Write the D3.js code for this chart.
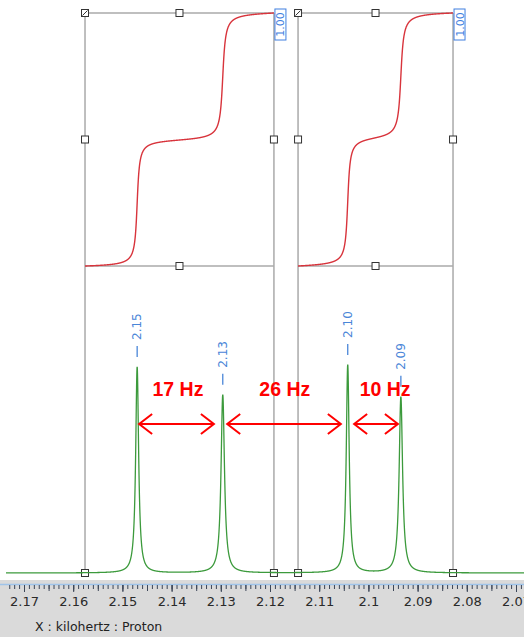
<!DOCTYPE html>
<html>
<head>
<meta charset="utf-8">
<script src="https://cdn.jsdelivr.net/npm/d3@7/dist/d3.min.js"></script>
<style>
  body { margin: 0; background: #fff; }
  svg { display: block; }
</style>
</head>
<body>
<script>
// peaks (kHz)
const peakPos = [2.1470, 2.1296, 2.1042, 2.0934];
const peakHeight = [1.0, 0.865, 1.01, 0.855];
const peakWidth = [0.00036, 0.00042, 0.00036, 0.00042];
const peakLabels = ["2.15", "2.13", "2.10", "2.09"];

// integral regions
const integralFrom = [2.1576, 2.1143];
const integralTo = [2.1192, 2.0828];
const integralLabels = ["1.00", "1.00"];

// coupling arrows
const couplingFrom = [2.1466, 2.1287, 2.1029];
const couplingTo = [2.1314, 2.1056, 2.0940];
const couplingLabels = ["17 Hz", "26 Hz", "10 Hz"];
const couplingLabelAt = [2.1387, 2.1170, 2.0966];
const couplingLevel = 0.723;

const axisTicks = [2.17, 2.16, 2.15, 2.14, 2.13, 2.12, 2.11, 2.10, 2.09, 2.08, 2.07];
const axisTitle = "X : kilohertz : Proton";

const W = 524, H = 637;
const base = 573;

let x = d3.scaleLinear().domain([2.17, 2.07]).range([24, 516]);
let y = d3.scaleLinear().domain([0, 1]).range([base, 367]);
let yi = d3.scaleLinear().domain([0, 1]).range([266, 13]);

let svg = d3.select("body").append("svg").attr("width", W).attr("height", H);

// lorentzian line shape from the peak list
function spec(v) {
  let s = 0;
  peakPos.forEach((p, i) => {
    let d = (v - p) / peakWidth[i];
    s += peakHeight[i] / (1 + d * d);
  });
  return s;
}
const step = 0.00002;
let pts = d3.range(x.invert(6), x.invert(W + 2), -step).map(v => [v, spec(v)]);

// axis band
svg.append("rect").attr("x", 0).attr("y", 580).attr("width", W).attr("height", H - 580)
  .attr("fill", "#dadada");
svg.append("line").attr("x1", 0).attr("x2", W).attr("y1", 584.5).attr("y2", 584.5)
  .attr("stroke", "#9fc4ea").attr("stroke-width", 1.5);

let minor = d3.range(2.173, 2.066, -0.001).map(v => +v.toFixed(3));
svg.append("g").attr("transform", "translate(0,585)")
  .call(d3.axisBottom(x).tickValues(minor).tickSize(4).tickFormat(""))
  .call(g => g.select(".domain").remove())
  .call(g => g.selectAll("line").attr("stroke", "#3c4658"));
svg.append("g").attr("transform", "translate(0,585)")
  .call(d3.axisBottom(x).tickValues(minor.filter(v => Math.round(v * 1000) % 5 == 0)).tickSize(6).tickFormat(""))
  .call(g => g.select(".domain").remove())
  .call(g => g.selectAll("line").attr("stroke", "#3c4658"));
svg.append("g").attr("transform", "translate(0,585)")
  .call(d3.axisBottom(x).tickValues(axisTicks).tickSize(7).tickPadding(5).tickFormat(d3.format(".2~f")))
  .call(g => g.select(".domain").remove())
  .call(g => g.selectAll("line").attr("stroke", "#3c4658"))
  .call(g => g.selectAll("text").attr("fill", "#2a2a2a").style("font-size", "13px")
    .style("font-family", "DejaVu Sans, sans-serif"));
svg.append("text").attr("x", 35).attr("y", 631).text(axisTitle)
  .attr("fill", "#222").style("font-size", "12.5px").style("font-family", "DejaVu Sans, sans-serif");

// integral boxes
let boxes = svg.append("g");
integralFrom.forEach((f, i) => {
  let x0 = x(f), x1 = x(integralTo[i]), xm = (x0 + x1) / 2;
  let g = boxes.append("g");
  let gl = (a, b, c, d) => g.append("line").attr("x1", a).attr("y1", b).attr("x2", c).attr("y2", d)
    .attr("stroke", "#aaa").attr("stroke-width", 1.5);
  gl(x0, yi(1), x0, base);
  gl(x1, yi(1), x1, base);
  gl(x0, yi(1), x1, yi(1));
  gl(x0, yi(0), x1, yi(0));

  // integral curve, normalised over the region
  let seg = pts.filter(p => p[0] <= f && p[0] >= integralTo[i]);
  let acc = 0, cum = [];
  seg.forEach((p, k) => {
    if (k > 0) acc += (seg[k - 1][1] + p[1]) / 2;
    cum.push([p[0], acc]);
  });
  cum.forEach(p => p[1] /= acc);
  g.append("path").datum(cum)
    .attr("d", d3.line().x(p => x(p[0])).y(p => yi(p[1])))
    .attr("fill", "none").attr("stroke", "#d8343c").attr("stroke-width", 1.4);

  // handles
  let handles = [[x0, yi(1)], [xm, yi(1)], [x0, yi(0.5)], [x1, yi(0.5)], [xm, yi(0)], [x0, base], [x1, base]];
  handles.forEach((h, k) => {
    g.append("rect").attr("x", h[0] - 3.5).attr("y", h[1] - 3.5).attr("width", 7).attr("height", 7)
      .attr("fill", "#fff").attr("stroke", "#333").attr("stroke-width", 1);
    if (k == 0) g.append("line").attr("x1", h[0] - 2.5).attr("y1", h[1] + 2.5).attr("x2", h[0] + 2.5).attr("y2", h[1] - 2.5)
      .attr("stroke", "#333").attr("stroke-width", 1);
  });

  // value tag
  g.append("rect").attr("x", x1 + 1).attr("y", 9).attr("width", 11).attr("height", 31)
    .attr("fill", "#fff").attr("stroke", "#3f7fe0").attr("stroke-width", 1);
  g.append("text").attr("transform", `translate(${x1 + 10.5},24.5) rotate(-90)`)
    .attr("text-anchor", "middle").text(integralLabels[i])
    .attr("fill", "#3f7fe0").style("font-size", "11px").style("font-family", "DejaVu Sans, sans-serif");
});

// spectrum
svg.append("path").datum(pts)
  .attr("d", d3.line().x(p => x(p[0])).y(p => y(p[1])))
  .attr("fill", "none").attr("stroke", "#3c9a3c").attr("stroke-width", 1.3);

// peak labels
peakPos.forEach((p, i) => {
  let px = x(p), top = y(peakHeight[i]) - 10;
  svg.append("line").attr("x1", px).attr("x2", px).attr("y1", top).attr("y2", top - 11)
    .attr("stroke", "#4a86d8").attr("stroke-width", 1.3);
  svg.append("text").attr("transform", `translate(${px + 4},${top - 17}) rotate(-90)`)
    .text(peakLabels[i]).attr("fill", "#4a86d8")
    .style("font-size", "12px").style("font-family", "DejaVu Sans, sans-serif");
});

// coupling arrows
let ay = y(couplingLevel);
couplingFrom.forEach((f, i) => {
  let a = x(f), b = x(couplingTo[i]);
  let g = svg.append("g").attr("stroke", "#ff0000").attr("stroke-width", 2).attr("fill", "none");
  g.append("line").attr("x1", a).attr("x2", b).attr("y1", ay).attr("y2", ay);
  g.append("path").attr("d", `M${a + 13},${ay - 10}L${a},${ay}L${a + 13},${ay + 10}`);
  g.append("path").attr("d", `M${b - 13},${ay - 10}L${b},${ay}L${b - 13},${ay + 10}`);
  svg.append("text").attr("x", x(couplingLabelAt[i])).attr("y", ay - 28)
    .attr("text-anchor", "middle").text(couplingLabels[i])
    .attr("fill", "#ff0000").style("font-weight", "bold").style("font-size", "19.5px")
    .style("font-family", "Liberation Sans, Arial, sans-serif");
});
</script>
</body>
</html>
